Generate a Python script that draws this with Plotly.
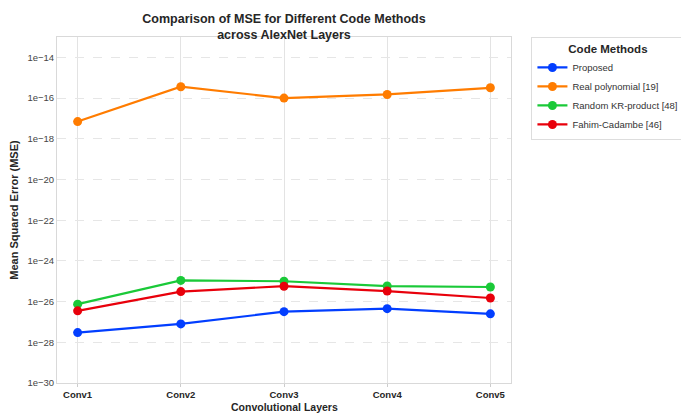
import plotly.graph_objects as go

layers = ["Conv1", "Conv2", "Conv3", "Conv4", "Conv5"]
proposed = [3.0e-28, 8.0e-28, 3.2e-27, 4.5e-27, 2.5e-27]
real_poly = [7.0e-18, 3.6e-16, 1.0e-16, 1.5e-16, 3.2e-16]
random_kr = [7.5e-27, 1.1e-25, 1.0e-25, 5.8e-26, 5.2e-26]
fahim = [3.5e-27, 3.1e-26, 5.7e-26, 3.3e-26, 1.5e-26]

series = [
    ("Proposed", proposed, "#023eff"),
    ("Real polynomial [19]", real_poly, "#ff7c00"),
    ("Random KR-product [48]", random_kr, "#1ac938"),
    ("Fahim-Cadambe [46]", fahim, "#e8000b"),
]

ytick_exps = [-30, -28, -26, -24, -22, -20, -18, -16, -14]

B = 30
plot_h = 413 - 37 - B

fig = go.Figure()
for name, vals, col in series:
    fig.add_trace(go.Scatter(
        x=layers, y=vals, name=name, mode="lines+markers",
        line=dict(color=col, width=2.2),
        marker=dict(color=col, size=9),
    ))

fig.update_layout(
    width=681, height=413,
    margin=dict(l=57, r=170, t=37, b=B, autoexpand=False),
    paper_bgcolor="white", plot_bgcolor="white",
    font=dict(family="Liberation Sans, Arial, sans-serif", size=10, color="#333333"),
    title=dict(
        text="<b>Comparison of MSE for Different Code Methods<br>across AlexNet Layers</b>",
        x=(57 + 511) / 2 / 681, xanchor="center", y=1 - 23 / 413, yanchor="middle",
        font=dict(size=12.5, color="#262626"), automargin=False,
    ),
    legend=dict(
        title=dict(text="<b>Code Methods</b>", side="top center", font=dict(size=11.5, color="#262626")),
        x=1.045, xanchor="left", y=1.0, yanchor="top",
        bordercolor="#dddddd", borderwidth=1, bgcolor="white",
        font=dict(size=9.5, color="#333333"),
        tracegroupgap=0, itemwidth=30,
    ),
    showlegend=True,
    annotations=[dict(
        text="<b>Convolutional Layers</b>", xref="paper", yref="paper",
        x=0.5, y=-(407 - (413 - B)) / plot_h, xanchor="center", yanchor="middle",
        showarrow=False, font=dict(size=10.5, color="#262626"),
    )],
)

fig.update_xaxes(
    type="category", range=[-0.2, 4.2], automargin=False,
    tickvals=layers, ticktext=["<b>%s</b>" % l for l in layers],
    showgrid=True, gridcolor="#e3e3e3", gridwidth=1,
    showline=True, linecolor="#d9d9d9", linewidth=1, mirror=True,
    ticks="outside", ticklen=3, tickcolor="#cccccc",
    tickfont=dict(size=9.5, color="#262626"),
)
fig.update_yaxes(
    type="log", range=[-30, -13], automargin=False,
    tickvals=[10.0 ** e for e in ytick_exps],
    ticktext=["1e\u2212%d" % (-e) for e in ytick_exps],
    showgrid=True, gridcolor="#e6e6e6", gridwidth=1, griddash="dash",
    showline=True, linecolor="#d9d9d9", linewidth=1, mirror=True,
    zeroline=False,
    title=dict(text="<b>Mean Squared Error (MSE)</b>", font=dict(size=11, color="#262626"), standoff=6),
    tickfont=dict(size=9.5, color="#444444"),
)

fig.write_html(
    "out.html",
    config={"displayModeBar": False},
    post_script="document.body.style.margin='0';document.body.style.overflow='hidden';",
)
